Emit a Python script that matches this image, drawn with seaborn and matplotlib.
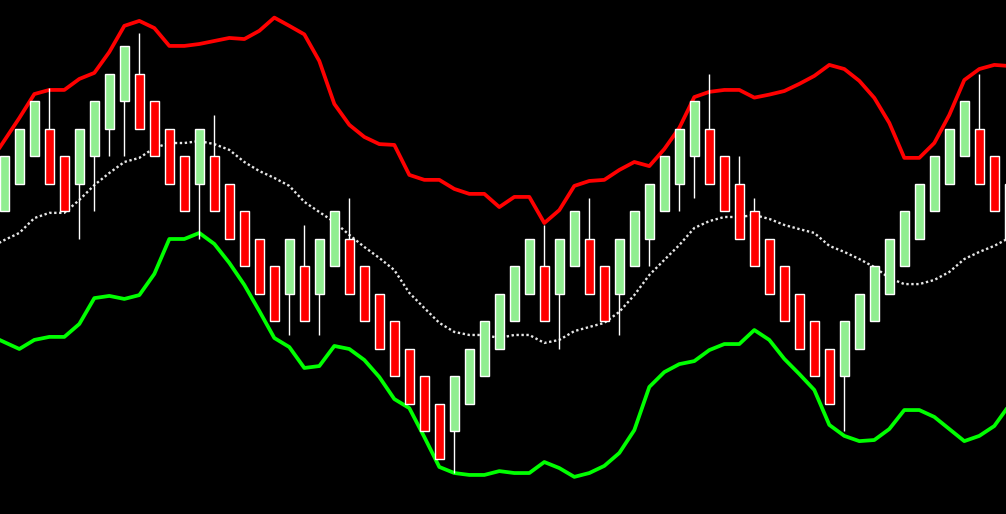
import numpy as np
import pandas as pd
import matplotlib
matplotlib.use("Agg")
import matplotlib.pyplot as plt
import seaborn as sns

# ---- candle data (price units), bar 0 is the first visible candle ----
opens = [9, 10, 11, 12, 11, 10, 11, 12, 13, 14, 13, 12, 11, 10, 11, 10, 9, 8, 7, 6,
         7, 6, 7, 8, 7, 6, 5, 4, 3, 2, 1, 2, 3, 4, 5, 6, 7, 6, 7, 8,
         7, 6, 7, 8, 9, 10, 11, 12, 11, 10, 9, 8, 7, 6, 5, 4, 3, 4, 5, 6,
         7, 8, 9, 10, 11, 12, 11, 10]
closes = [11, 12, 13, 10, 9, 12, 13, 14, 15, 12, 11, 10, 9, 12, 9, 8, 7, 6, 5, 8,
          5, 8, 9, 6, 5, 4, 3, 2, 1, 0, 3, 4, 5, 6, 7, 8, 5, 8, 9, 6,
          5, 8, 9, 10, 11, 12, 13, 10, 9, 8, 7, 6, 5, 4, 3, 2, 5, 6, 7, 8,
          9, 10, 11, 12, 13, 10, 9, 8]
highs = [11, 12, 13, 13.5, 11, 12, 13, 14, 15, 15.5, 13, 12, 11, 12, 12.5, 10, 9, 8, 7, 8,
         8.5, 8, 9, 9.5, 7, 6, 5, 4, 3, 2, 3, 4, 5, 6, 7, 8, 8.5, 8, 9, 9.5,
         7, 8, 9, 10, 11, 12, 13, 14, 11, 11, 9.5, 8, 7, 6, 5, 4, 5, 6, 7, 8,
         9, 10, 11, 12, 13, 14, 11, 10]
lows = [9, 10, 11, 10, 9, 8, 9, 11, 11, 12, 11, 10, 9, 8, 9, 8, 7, 6, 5, 4.5,
        5, 4.5, 7, 6, 5, 4, 3, 2, 1, 0, -0.5, 2, 3, 4, 5, 6, 5, 4, 7, 6,
        5, 4.5, 7, 7, 9, 9, 9.5, 10, 9, 8, 7, 6, 5, 4, 3, 2, 1, 4, 5, 6,
        7, 8, 9, 10, 11, 10, 9, 8]

# ---- band data: starts one bar before the first visible candle (bar -1) ----
upper_band = [10.76,
              11.58, 12.40, 13.27, 13.42, 13.42, 13.82, 14.04, 14.80, 15.75, 15.93,
              15.67, 15.02, 15.02, 15.09, 15.20, 15.31, 15.27, 15.57, 16.05, 15.75,
              15.44, 14.47, 12.91, 12.15, 11.71, 11.45, 11.42, 10.33, 10.15, 10.15,
              9.82, 9.64, 9.64, 9.16, 9.53, 9.53, 8.58, 9.05, 9.93, 10.11,
              10.15, 10.51, 10.80, 10.65, 11.27, 12.04, 13.16, 13.35, 13.42, 13.42,
              13.14, 13.25, 13.38, 13.64, 13.93, 14.33, 14.18, 13.75, 13.13, 12.22,
              10.95, 10.95, 11.49, 12.51, 13.78, 14.18, 14.33, 14.29]
middle_band = [7.67,
               7.96, 8.22, 8.76, 8.95, 8.95, 9.42, 9.96, 10.40, 10.80, 10.95,
               11.31, 11.49, 11.49, 11.56, 11.45, 11.24, 10.80, 10.47, 10.22, 9.93,
               9.35, 8.98, 8.62, 8.15, 7.71, 7.31, 6.87, 6.04, 5.49, 4.95,
               4.62, 4.51, 4.51, 4.40, 4.51, 4.51, 4.22, 4.33, 4.65, 4.80,
               4.95, 5.35, 5.96, 6.69, 7.24, 7.78, 8.40, 8.65, 8.80, 8.80,
               8.87, 8.73, 8.51, 8.36, 8.22, 7.75, 7.53, 7.27, 6.98, 6.58,
               6.36, 6.36, 6.51, 6.80, 7.27, 7.53, 7.75, 8.04]
lower_band = [4.50,
              4.25, 4.00, 4.33, 4.44, 4.44, 4.91, 5.85, 5.93, 5.82, 5.96,
              6.73, 8.00, 8.00, 8.22, 7.82, 7.13, 6.33, 5.38, 4.40, 4.07,
              3.31, 3.38, 4.11, 4.00, 3.60, 2.98, 2.18, 1.85, 0.80, -0.29,
              -0.51, -0.58, -0.58, -0.44, -0.51, -0.51, -0.11, -0.33, -0.65, -0.51,
              -0.25, 0.22, 1.05, 2.62, 3.16, 3.45, 3.56, 3.96, 4.18, 4.18,
              4.69, 4.33, 3.64, 3.09, 2.51, 1.24, 0.84, 0.65, 0.69, 1.09,
              1.78, 1.78, 1.53, 1.09, 0.65, 0.84, 1.20, 1.96]

# ---- styling ----
BG = "#000000"
UP_FILL = "#90EE90"
DOWN_FILL = "#FF0000"
UPPER_COL = "#FF0000"
LOWER_COL = "#00FF00"
MID_COL = "#E6E6E6"

sns.set_theme(style="dark", rc={"axes.facecolor": BG, "figure.facecolor": BG})

n = len(opens)
idx = np.arange(n)
band_idx = np.arange(-1, len(upper_band) - 1)
df = pd.DataFrame({
    "idx": band_idx,
    "upper": upper_band,
    "middle": middle_band,
    "lower": lower_band,
})

fig = plt.figure(figsize=(10.06, 5.14), dpi=100, facecolor=BG)
ax = fig.add_axes([0, 0, 1, 1])
ax.set_facecolor(BG)

# bands (behind candles)
sns.lineplot(data=df, x="idx", y="upper", ax=ax, color=UPPER_COL, linewidth=2.7,
             zorder=1, legend=False)
sns.lineplot(data=df, x="idx", y="lower", ax=ax, color=LOWER_COL, linewidth=2.7,
             zorder=1, legend=False)
sns.lineplot(data=df, x="idx", y="middle", ax=ax, color=MID_COL, linewidth=1.7,
             zorder=1, legend=False, linestyle=(0, (1, 1.1)))

# candles
o = np.array(opens, dtype=float)
c = np.array(closes, dtype=float)
h = np.array(highs, dtype=float)
l = np.array(lows, dtype=float)
up = c >= o
ax.vlines(idx, l, h, colors="white", linewidth=1.0, zorder=2)
bottoms = np.minimum(o, c)
heights = np.abs(c - o)
colors = np.where(up, UP_FILL, DOWN_FILL)
ax.bar(idx, heights, bottom=bottoms, width=0.63, color=colors,
       edgecolor="white", linewidth=1.0, zorder=3)

ax.set_xlim(-0.289, 66.78)
ax.set_ylim(-2.0, 16.69)
ax.set_axis_off()

fig.savefig("out.png", dpi=100, facecolor=BG)
